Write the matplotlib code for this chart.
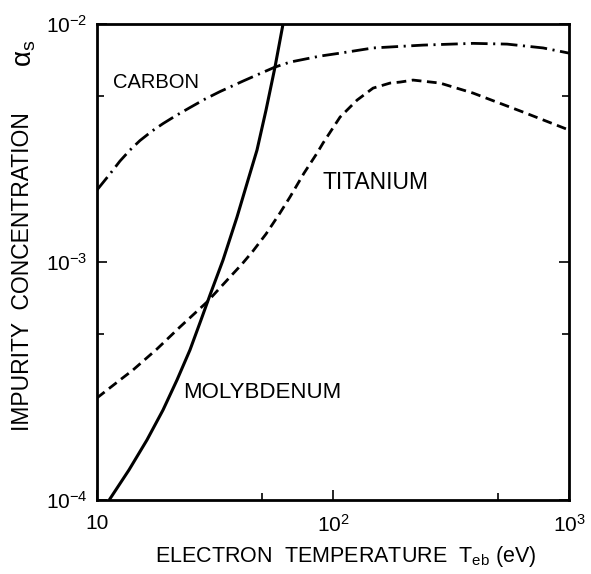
import matplotlib
matplotlib.use("Agg")
import matplotlib.pyplot as plt
from matplotlib.ticker import FixedLocator

plt.rcParams['font.family'] = ['Liberation Sans', 'DejaVu Sans']
plt.rcParams['mathtext.fontset'] = 'custom'
plt.rcParams['mathtext.rm'] = 'Liberation Sans'
plt.rcParams['mathtext.it'] = 'Liberation Sans'
plt.rcParams['lines.scale_dashes'] = False

# values (T in eV, impurity concentration)
carbon_T = [10, 11.35, 12.52, 13.8, 15.21, 17.11, 19.05, 21.61, 24.78, 28.69, 33.2, 41.56,
            49.06, 56.78, 65.73, 88.1, 107.1, 148, 240, 392, 546, 776, 1000]
carbon_a = [2.006e-3, 2.344e-3, 2.657e-3, 2.955e-3, 3.239e-3, 3.551e-3, 3.818e-3, 4.125e-3,
            4.459e-3, 4.84e-3, 5.204e-3, 5.761e-3, 6.194e-3, 6.597e-3, 6.924e-3, 7.338e-3,
            7.55e-3, 7.94e-3, 8.16e-3, 8.3e-3, 8.24e-3, 7.94e-3, 7.55e-3]

titan_T = [10, 12.52, 14.21, 17.96, 22.47, 29.25, 36.6, 41.17, 45.8, 52.0, 59.6, 65.7, 75.4,
           85.6, 90.7, 107.1, 126.4, 147.8, 174.4, 192.3, 218.3, 284, 392, 463, 638.6, 1000]
titan_a = [2.683e-4, 3.193e-4, 3.517e-4, 4.31e-4, 5.332e-4, 6.79e-4, 8.65e-4, 9.81e-4,
           1.112e-3, 1.311e-3, 1.607e-3, 1.875e-3, 2.366e-3, 2.871e-3, 3.162e-3, 4.067e-3,
           4.793e-3, 5.383e-3, 5.651e-3, 5.706e-3, 5.818e-3, 5.651e-3, 5.129e-3, 4.816e-3,
           4.268e-3, 3.586e-3]

moly_T = [11.35, 13.67, 16.29, 19.05, 21.83, 24.78, 27.59, 30.12, 34.2, 39.2, 43.64, 47.64,
          52.02, 56.78, 61.4]
moly_a = [1.01e-4, 1.337e-4, 1.787e-4, 2.388e-4, 3.192e-4, 4.27e-4, 5.706e-4, 7.265e-4,
          1.019e-3, 1.545e-3, 2.21e-3, 2.955e-3, 4.35e-3, 6.597e-3, 1.0e-2]

xticks = [10, 100, 1000]
xticklabels = ['10', r'$10^2$', r'$10^3$']
yticks = [1e-4, 1e-3, 1e-2]
yticklabels = [r'$10^{-4}$', r'$10^{-3}$', r'$10^{-2}$']
minor_x = [50, 500]
minor_y = [5e-4, 5e-3]

fig = plt.figure(figsize=(5.91, 5.74), dpi=100)
ax = fig.add_axes([0.164, 0.129, 0.799, 0.829])

ax.plot(carbon_T, carbon_a, color='black', lw=2.0, dashes=(12, 4, 1.5, 4))
ax.plot(titan_T, titan_a, color='black', lw=2.0, dashes=(7, 4))
ax.plot(moly_T, moly_a, color='black', lw=2.2)

ax.set_xscale('log')
ax.set_yscale('log')
ax.set_xlim(10, 1000)
ax.set_ylim(1e-4, 1e-2)

ax.xaxis.set_major_locator(FixedLocator(xticks))
ax.set_xticklabels(xticklabels)
ax.yaxis.set_major_locator(FixedLocator(yticks))
ax.set_yticklabels(yticklabels)
ax.xaxis.set_minor_locator(FixedLocator(minor_x))
ax.yaxis.set_minor_locator(FixedLocator(minor_y))
ax.tick_params(which='both', direction='in', right=True, top=False, width=1.2, labelsize=15)
ax.tick_params(which='major', length=7)
ax.tick_params(axis='x', which='major', pad=10)
ax.tick_params(axis='y', which='major', pad=7)
ax.tick_params(which='minor', length=5)
for s in ax.spines.values():
    s.set_linewidth(2)

ax.set_xlabel(r'ELECTRON  TEMPERATURE  $\mathregular{T_{eb}}$ (eV)', fontsize=15.5)
ax.xaxis.set_label_coords(0.527, -0.092)
ax.set_ylabel('IMPURITY  CONCENTRATION', fontsize=16.5)
ax.yaxis.set_label_coords(-0.133, 0.48)
fig.text(0.043, 0.908, r'α$_\mathregular{s}$', rotation=90, fontsize=20, ha='center', va='center')

ax.text(0.034, 0.878, 'CARBON', transform=ax.transAxes, fontsize=14.5, va='center')
ax.text(0.477, 0.668, 'TITANIUM', transform=ax.transAxes, fontsize=16.5, va='center')
ax.text(0.182, 0.225, 'MOLYBDENUM', transform=ax.transAxes, fontsize=16, va='center')

fig.savefig('out.png', dpi=100)
